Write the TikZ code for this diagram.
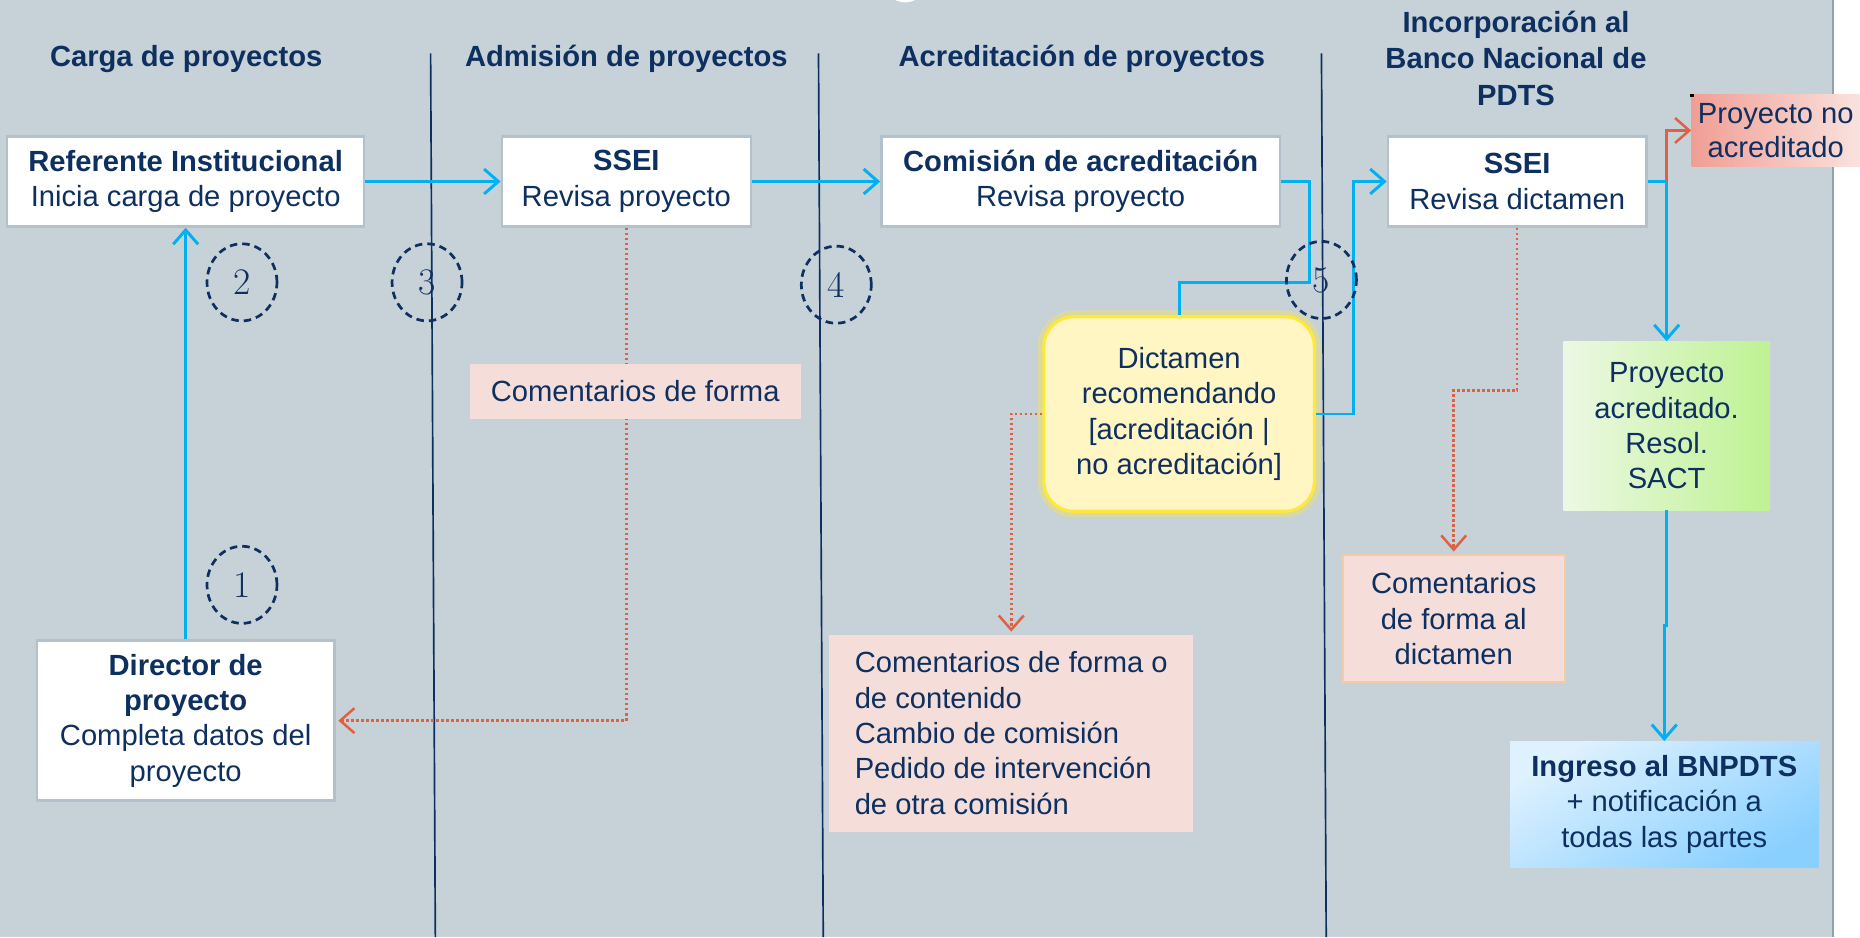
\documentclass[tikz,border=0pt]{standalone}
\usepackage{fontspec}
\setsansfont{Liberation Sans}
\usetikzlibrary{arrows.meta,shapes.geometric}
\definecolor{fondo}{RGB}{198,209,216}
\definecolor{filo}{RGB}{143,163,170}
\definecolor{marino}{RGB}{14,48,96}
\definecolor{celeste}{RGB}{0,176,240}
\definecolor{teja}{RGB}{222,98,66}
\definecolor{borde}{RGB}{178,193,203}
\definecolor{rosa}{RGB}{245,222,217}
\definecolor{rosaborde}{RGB}{242,203,170}
\definecolor{salmonD}{RGB}{240,158,148}
\definecolor{salmonL}{RGB}{250,226,222}
\definecolor{amarillo}{RGB}{255,246,196}
\definecolor{amarilloborde}{RGB}{255,232,60}
\definecolor{verdeL}{RGB}{236,248,228}
\definecolor{verdeD}{RGB}{190,242,146}
\definecolor{azulL}{RGB}{222,241,255}
\definecolor{azulD}{RGB}{138,208,255}

\begin{document}
\begin{tikzpicture}[x=0.02cm,y=-0.02cm,
    every node/.style={font=\sffamily\fontsize{14}{17}\selectfont,text=marino,align=center,inner sep=2pt},
    titulo/.style={font=\sffamily\bfseries\fontsize{14}{17.5}\selectfont},
    caja/.style={draw=borde,line width=1.2pt,fill=white,minimum height=1.52cm},
    nota/.style={fill=rosa,draw=none},
    paso/.style={ellipse,draw=marino,line width=1.3pt,dash pattern=on 3.6pt off 2.4pt,
        minimum width=1.18cm,minimum height=1.3cm,inner sep=0pt,font=\rmfamily\fontsize{18}{20}\selectfont},
    carril/.style={marino,line width=0.8pt},
    flujo/.style={celeste,line width=1.4pt,-{Straight Barb[length=2.4mm,width=4.2mm]}},
    enlace/.style={celeste,line width=1.4pt},
    rechazo/.style={teja,line width=1.2pt,-{Straight Barb[length=2.4mm,width=4.2mm]}},
    retorno/.style={teja,line width=1.2pt,dash pattern=on 1.2pt off 1.2pt,-{Straight Barb[length=2.4mm,width=4.2mm,sep]}}]
    \useasboundingbox (0,0) rectangle (1568,790);
    \fill[white] (0,0) rectangle (1568,790);
    \fill[fondo] (0,0) rectangle (1545,790);
    \draw[filo,line width=1pt] (1545,0) -- (1545,790);
    \fill[white] (763,-8) ellipse [x radius=14, y radius=10];

    \foreach \xa/\xb in {363/367,690/694,1114/1118}
        \draw[carril] (\xa,45) -- (\xb,790);

    \node[titulo] (h1) at (157,50) {Carga de proyectos};
    \node[titulo] (h2) at (528,50) {Admisión de proyectos};
    \node[titulo] (h3) at (912,50) {Acreditación de proyectos};
    \node[titulo] (h4) at (1278,49) {Incorporación al\\Banco Nacional de\\PDTS};

    \node[caja,minimum width=6.02cm] (refinst) at (156.5,153) {\textbf{Referente Institucional}\\Inicia carga de proyecto};
    \node[caja,minimum width=4.2cm] (ssei_adm) at (528,153) {\textbf{SSEI}\\Revisa proyecto};
    \node[caja,minimum width=6.72cm] (comision) at (911,153) {\textbf{Comisión de acreditación}\\Revisa proyecto};
    \node[caja,minimum width=4.36cm] (ssei_inc) at (1279,153) {\textbf{SSEI}\\Revisa dictamen};
    \node[left color=salmonD,right color=salmonL,minimum width=2.84cm,minimum height=1.2cm,
        font=\sffamily\fontsize{14}{16}\selectfont] (noacred) at (1497,110) {Proyecto no\\acreditado};
    \fill[black] (1425,79) rectangle (1428,82);
    \node[caja,minimum width=5.02cm,minimum height=2.7cm] (director) at (156.5,607.5) {\textbf{Director de}\\\textbf{proyecto}\\Completa datos del\\proyecto};
    \node[draw=amarilloborde,line width=6pt,opacity=0.35,rounded corners=0.5cm,
        minimum width=4.56cm,minimum height=3.28cm] at (994,349) {};
    \node[draw=amarilloborde,fill=amarillo,line width=1.5pt,rounded corners=0.5cm,
        minimum width=4.56cm,minimum height=3.28cm] (dictamen) at (994,349) {Dictamen\\recomendando\\{[}acreditación |\\no acreditación{]}};
    \node[nota,minimum width=6.14cm,minimum height=3.32cm,align=left] (commulti) at (852.5,618) {Comentarios de forma o\\de contenido\\Cambio de comisión\\Pedido de intervención\\de otra comisión};
    \node[nota,draw=rosaborde,line width=1pt,minimum width=3.74cm,minimum height=2.14cm] (comdict) at (1225.5,521.5) {Comentarios\\de forma al\\dictamen};
    \node[left color=verdeL,right color=verdeD,minimum width=3.48cm,minimum height=2.84cm] (acreditado) at (1405,359) {Proyecto\\acreditado.\\Resol.\\SACT};
    \node[top color=azulL,bottom color=azulD,shading angle=30,minimum width=5.2cm,minimum height=2.12cm] (bnpdts) at (1403,678) {\textbf{Ingreso al BNPDTS}\\+ notificación a\\todas las partes};

    \draw[retorno] (ssei_adm.south) |- (director.east);
    \node[nota,minimum width=5.58cm,minimum height=0.92cm] (comforma) at (535.5,330) {Comentarios de forma};
    \draw[retorno] (dictamen.west) -| (commulti.north);
    \draw[retorno] (ssei_inc.south) -- ++(0,137) -| (comdict.north);

    \draw[flujo] (director.north) -- (refinst.south);
    \draw[flujo] (refinst.east) -- (ssei_adm.west);
    \draw[flujo] (ssei_adm.east) -- (comision.west);
    \draw[enlace] (comision.east) -- ++(24,0) -- ++(0,85) -| (dictamen.north);
    \draw[flujo] (dictamen.east) -- ++(32,0) |- (ssei_inc.west);
    \coordinate (cruce) at (ssei_inc.east -| acreditado.north);
    \draw[flujo] (ssei_inc.east) -- (cruce) -- (acreditado.north);
    \draw[rechazo] (cruce) |- (noacred.west);
    \draw[flujo] (acreditado.south) -- ++(0,97) -| (bnpdts.north);

    \node[paso] (c1) at (204,493) {1};
    \node[paso] (c2) at (204,238) {2};
    \node[paso] (c3) at (360,238) {3};
    \node[paso] (c4) at (705,240) {4};
    \node[paso] (c5) at (1114,236) {5};
\end{tikzpicture}
\end{document}
